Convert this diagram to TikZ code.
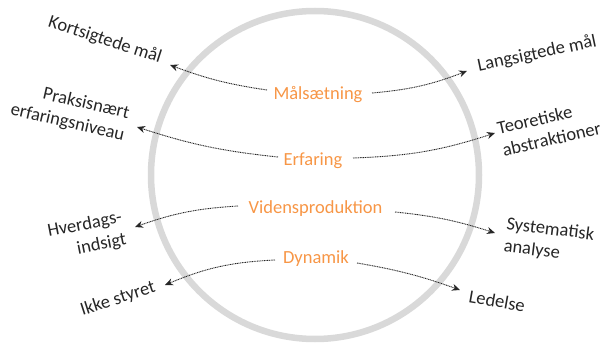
\documentclass[tikz,border=0pt]{standalone}
\usepackage{fontspec}
\setmainfont{Carlito}
\usetikzlibrary{arrows.meta}
\definecolor{ringgray}{HTML}{D9D9D9}
\definecolor{lblorange}{HTML}{F79646}
\begin{document}
\begin{tikzpicture}[x=1pt,y=-1pt,
  lbl/.style={font=\fontsize{18.5}{22.5}\selectfont, text=black!85, inner sep=0pt},
  mid/.style={font=\fontsize{18.5}{22.5}\selectfont, text=lblorange, inner sep=0pt, anchor=base},
  conn/.style={draw=black!85, line width=0.9pt, dash pattern=on 1pt off 0.7pt, -{Stealth[length=8pt,width=7pt]}}]
\useasboundingbox (0,0) rectangle (606,345);
\draw[ringgray, line width=6.5pt] (315,175) circle[radius=164];
% middle labels
\node[mid] (mal) at (318,100) {Målsætning};
\node[mid] (erf) at (313,165) {Erfaring};
\node[mid] (vid) at (315.5,213) {Vidensproduktion};
\node[mid] (dyn) at (316,263) {Dynamik};
% outer labels
\node[lbl, rotate=-18] (kort) at (105,40) {Kortsigtede mål};
\node[lbl, rotate=-13, align=right] (prak) at (70,112) {Praksisnært\\erfaringsniveau};
\node[lbl, rotate=11, align=right] (hver) at (87,236) {Hverdags-\\indsigt};
\node[lbl, rotate=18] (ikke) at (118,299) {Ikke styret};
\node[lbl, rotate=12] (lang) at (537,54) {Langsigtede mål};
\node[lbl, rotate=13, align=left] (teo) at (549,128) {Teoretiske\\abstraktioner};
\node[lbl, rotate=-7, align=left] (sys) at (549,241) {Systematisk\\analyse};
\node[lbl, rotate=-10] (led) at (497,301) {Ledelse};
% connector ends
\coordinate (a1) at (267,90);  \coordinate (b1) at (170,65);
\coordinate (a2) at (372,93);  \coordinate (b2) at (467,71);
\coordinate (a3) at (278,157); \coordinate (b3) at (137,127);
\coordinate (a4) at (353,158); \coordinate (b4) at (495,133);
\coordinate (a5) at (238,206); \coordinate (b5) at (135,227);
\coordinate (a6) at (395,212); \coordinate (b6) at (495,233);
\coordinate (a7) at (275,260); \coordinate (b7) at (165,285);
\coordinate (a8) at (357,263); \coordinate (b8) at (460,290);
\draw[conn] (a1) to[bend left=6] (b1);
\draw[conn] (a2) to[bend right=8] (b2);
\draw[conn] (a3) to[bend left=6] (b3);
\draw[conn] (a4) to[bend right=8] (b4);
\draw[conn] (a5) to[bend right=8] (b5);
\draw[conn] (a6) to[bend left=6] (b6);
\draw[conn] (a7) to[bend right=10] (b7);
\draw[conn] (a8) to[bend left=5] (b8);
\end{tikzpicture}
\end{document}
